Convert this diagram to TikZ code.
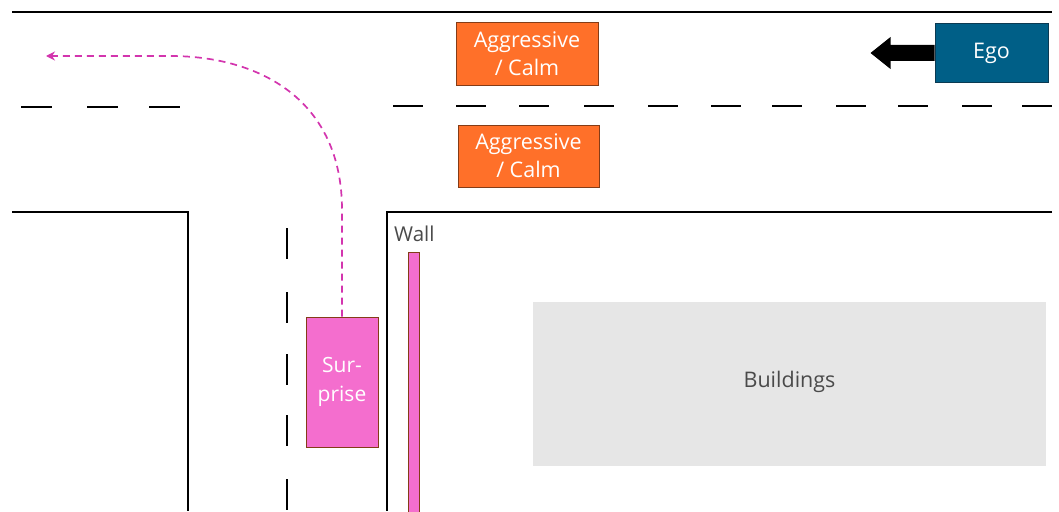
\documentclass[tikz,border=0pt]{standalone}
\usepackage{fontspec}
\setmainfont{Open Sans}
\usetikzlibrary{arrows.meta}
\definecolor{orangefill}{HTML}{FF7029}
\definecolor{boxborder}{HTML}{843C17}
\definecolor{pinkfill}{HTML}{F46ECE}
\definecolor{egofill}{HTML}{005F87}
\definecolor{egoborder}{HTML}{0B3A52}
\definecolor{pathcol}{HTML}{D335AE}
\definecolor{bldgfill}{HTML}{E6E6E6}
\definecolor{txtgray}{HTML}{4A4A4A}
\tikzset{
  curb/.style={draw=black, line width=1.4pt},
  lane/.style={draw=black, line width=1.6pt},
  carbox/.style={draw=boxborder, line width=1pt, fill=orangefill, text=white, align=center, inner sep=0pt, font=\fontsize{21.5}{28}\selectfont},
}
\begin{document}
\begin{tikzpicture}[x=1pt,y=-1pt]
\useasboundingbox (0,0) rectangle (1059,511);
% road edges
\draw[curb] (12,12) -- (1052,12);
\draw[curb] (12,212) -- (188,212) -- (188,511);
\draw[curb] (1052,212) -- (387,212) -- (387,511);
% center lane dashes (horizontal)
\foreach \x in {21,87,149} \draw[lane] (\x,107) -- ++(31,0);
\foreach \x in {393,456,519,584,648,711,772,836,898,962,1022} \draw[lane] (\x,106) -- ++(30,0);
% vertical lane dashes
\foreach \y in {228,292,354,415,479} \draw[lane] (287,\y) -- ++(0,31);
% buildings
\fill[bldgfill] (533,302) rectangle (1046,466);
\node[text=txtgray, font=\fontsize{21.5}{24}\selectfont] (bldg) at (789.5,382) {Buildings};
% wall
\node[draw=boxborder, line width=0.9pt, fill=pinkfill, minimum width=11pt, minimum height=262pt, inner sep=0pt] (wall) at (413.5,383) {};
\node[text=txtgray, font=\fontsize{20.5}{24}\selectfont, anchor=west, inner sep=0pt] (walllbl) at (394,234) {Wall};
% surprise car
\node[draw=boxborder, line width=1pt, fill=pinkfill, text=white, align=center, minimum width=72pt, minimum height=130pt, inner sep=0pt, font=\fontsize{21}{29}\selectfont] (surprise) at (342,382) {Sur-\\prise};
% surprise path
\coordinate (pathend) at (46,56);
\draw[pathcol, line width=1.7pt, dash pattern=on 7pt off 5pt, -{Stealth[length=9pt,width=9pt]}]
  (surprise.north) -- (342,210) .. controls (342,100) and (260,56) .. (170,56) -- (pathend);
% other cars
\node[carbox, minimum width=142pt, minimum height=62pt] (aggr1) at (527,54) {Aggressive\\/ Calm};
\node[carbox, minimum width=141pt, minimum height=62pt] (aggr2) at (528.5,156) {Aggressive\\/ Calm};
% ego
\node[draw=egoborder, line width=1pt, fill=egofill, text=white, minimum width=113pt, minimum height=59pt, inner sep=0pt, font=\fontsize{21.5}{24}\selectfont] (ego) at (991.5,53) {Ego};
\fill[black] (ego.west) ++(0,-8) -- ++(-44,0) -- ++(0,-8) -- ++(-20,16) -- ++(20,16) -- ++(0,-8) -- ++(44,0) -- cycle;
\end{tikzpicture}
\end{document}
